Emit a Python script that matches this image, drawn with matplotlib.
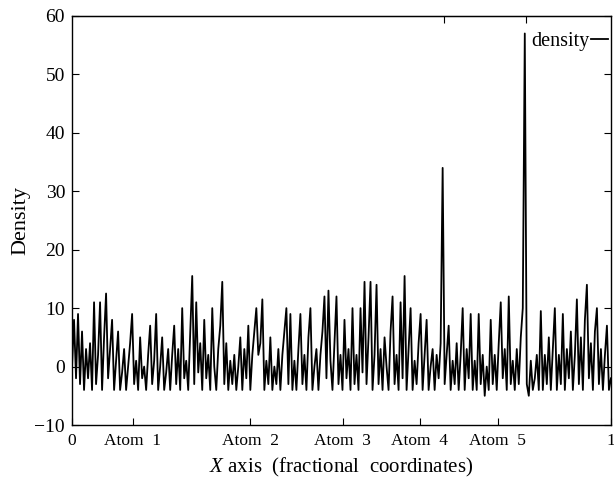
import numpy as np
import matplotlib
matplotlib.use("Agg")
import matplotlib.pyplot as plt

plt.rcParams['font.family'] = ['Liberation Serif', 'DejaVu Serif']
plt.rcParams['mathtext.fontset'] = 'custom'
plt.rcParams['mathtext.it'] = 'Liberation Serif:italic'
plt.rcParams['mathtext.rm'] = 'Liberation Serif'

density = [
    0, 8, -2, 9, -3, 6, -4, 3, -2, 4, -4, 11, -3, 2, 11,
    -4, 5, 12.5, -2, 3, 8, -4, 1, 6, -4, -1, 3, -4, 0, 4,
    9, -3, 1, -4, 5, -2, 0, -4, 2, 7, -3, 1, 9, -4, 0,
    5, -4, -1, 3, -4, 2, 7, -3, 3, -4, 10, -2, 1, -4, 6,
    15.5, -3, 11, -1, 4, -4, 8, -2, 2, -4, 10, 0, -4, 3, 7,
    14.5, -3, 4, -4, 1, -3, 2, -4, 0, 5, -4, 3, -2, 7, -4,
    2, 6, 10, 2, 4, 11.5, -4, 1, -3, 5, -4, 0, -3, 3, -4,
    2, 6, 10, -3, 9, -4, 1, -4, 3, 9, -3, 2, -4, 5, 10,
    -4, 0, 3, -4, 2, 6, 12, -2, 13, 1, -4, 4, 12, -3, 2,
    -4, 8, -2, 3, -4, 10, -3, 2, -4, 10, -1, 14.5, -3, 5, 14.5,
    -4, 2, 14, -3, 3, -4, 5, 0, -4, 6, 12, -3, 2, -4, 11,
    -2, 15.5, -4, 3, 10, -4, 1, -3, 4, 9, -4, 2, 8, -4, 0,
    3, -4, 2, -2, 4, 34, -3, 2, 7, -4, 1, -3, 4, -4, 2,
    10, -4, 3, -2, 9, -4, 1, -4, 9, -3, 2, -5, 0, -4, 8,
    -3, 2, -4, 4, 11, -2, 3, -4, 12, -3, 1, -4, 3, -3, 5,
    10, 57, -3, -5, 1, -4, -2, 2, -4, 9.5, -4, 2, -3, 5, -4,
    3, 10, -4, 2, -3, 9, -4, 3, -2, 6, -4, 2, 11.5, -3, 5,
    -4, 8, 14, -2, 4, -4, 6, 10, -3, 3, -4, 2, 7, -4, -2,
]
x_frac = np.linspace(0, 1, len(density))

xtick_pos = [0, 0.113, 0.331, 0.502, 0.645, 0.79, 1]
xtick_labels = ['0', 'Atom  1', 'Atom  2', 'Atom  3', 'Atom  4', 'Atom  5', '1']
ytick_vals = [-10, 0, 10, 20, 30, 40, 50, 60]

fig = plt.figure(figsize=(6.14, 4.79), dpi=100)
ax = fig.add_axes([0.1173, 0.1127, 0.8777, 0.854])
ax.plot(x_frac, density, color='black', linewidth=1.3, label='density')
ax.set_xlim(0, 1)
ax.set_ylim(-10, 60)
ax.set_xticks(xtick_pos)
ax.set_xticklabels(xtick_labels)
ax.set_yticks(ytick_vals)
ax.set_yticklabels(['\u221210'] + [str(v) for v in ytick_vals[1:]])
ax.tick_params(axis='both', direction='in', length=5, width=0.8,
               right=True, colors='black')
ax.tick_params(axis='x', pad=6, labelsize=12.5)
ax.tick_params(axis='y', pad=5, labelsize=14)
sec = ax.secondary_xaxis('top')
sec.set_xticks([0.69, 0.842])
sec.tick_params(direction='in', length=5, labeltop=False)
for s in ax.spines.values():
    s.set_linewidth(1.0)
ax.set_ylabel('Density', fontsize=16, labelpad=3)
ax.set_xlabel('$X$ axis  (fractional  coordinates)', fontsize=15, labelpad=5)
ax.legend(loc='upper right', bbox_to_anchor=(1.006, 0.975), frameon=False,
          markerfirst=False, fontsize=14.5, handlelength=0.85, handletextpad=0.05,
          borderaxespad=0.1, borderpad=0.2)
fig.savefig('out.png', dpi=100)
